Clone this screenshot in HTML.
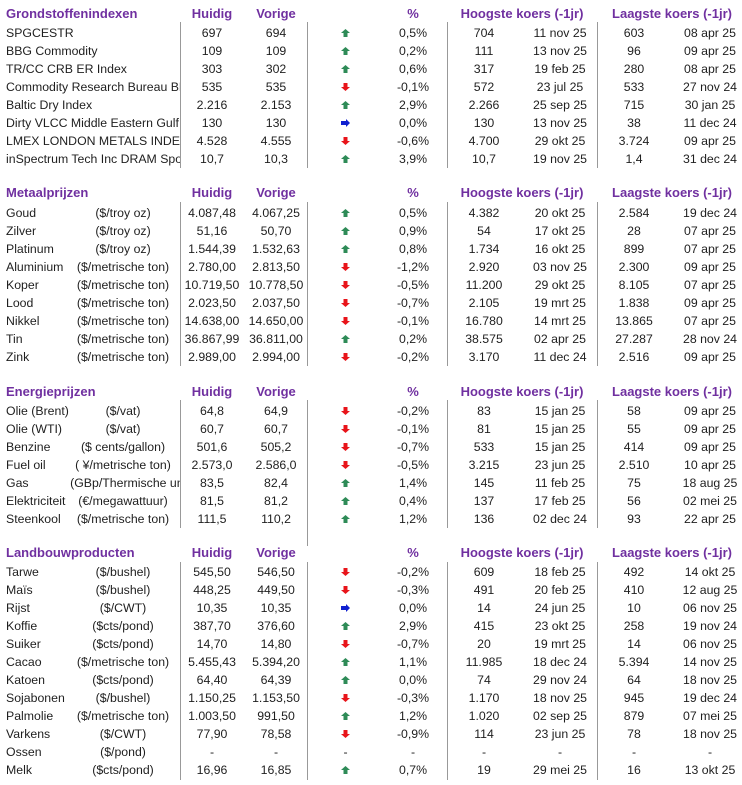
<!DOCTYPE html>
<html><head><meta charset="utf-8"><style>
body{margin:0;width:742px;height:785px;background:#fff;position:relative;overflow:hidden;font-family:"Liberation Sans",Arial,sans-serif;font-size:12.3px;color:#1e1e1e}
.r{position:absolute;left:0;width:742px;height:18px;line-height:18px}
.r span{position:absolute;top:0;white-space:nowrap}
.n{left:6px;width:174px;overflow:hidden}
.u{left:62px;width:118px;height:18px;overflow:hidden}
.u i{position:absolute;left:61px;transform:translateX(-50%);font-style:normal;white-space:nowrap}
.h{left:162px;width:100px;text-align:center}
.v{left:226px;width:100px;text-align:center}
.p{left:373px;width:80px;text-align:center}
.hv{left:444px;width:80px;text-align:center}
.hd{left:510px;width:100px;text-align:center}
.lv{left:594px;width:80px;text-align:center}
.ld{left:660px;width:100px;text-align:center}
.hdr{font-weight:bold;font-size:13px;color:#7030a0}
.vl{position:absolute;width:1px;background:#999}
</style></head><body>
<svg width="0" height="0" style="position:absolute"><defs>
<symbol id="up" viewBox="0 0 9 8"><polygon points="4.5,0 9,4 6.5,4 6.5,8 2.5,8 2.5,4 0,4" fill="#2e8b57"/></symbol>
<symbol id="dn" viewBox="0 0 9 8"><polygon points="4.5,8 9,4 6.5,4 6.5,0 2.5,0 2.5,4 0,4" fill="#e8141a"/></symbol>
<symbol id="rt" viewBox="0 0 9 8"><polygon points="9,4 5,0 5,2 0,2 0,6 5,6 5,8" fill="#1020d0"/></symbol>
</defs></svg>

<div class="vl" style="left:180px;top:22px;height:146px"></div>
<div class="vl" style="left:307px;top:22px;height:146px"></div>
<div class="vl" style="left:447px;top:22px;height:146px"></div>
<div class="vl" style="left:597px;top:22px;height:146px"></div>
<div class="vl" style="left:180px;top:202px;height:164px"></div>
<div class="vl" style="left:307px;top:202px;height:164px"></div>
<div class="vl" style="left:447px;top:202px;height:164px"></div>
<div class="vl" style="left:597px;top:202px;height:164px"></div>
<div class="vl" style="left:180px;top:400px;height:128px"></div>
<div class="vl" style="left:307px;top:400px;height:146px"></div>
<div class="vl" style="left:447px;top:400px;height:128px"></div>
<div class="vl" style="left:597px;top:400px;height:128px"></div>
<div class="vl" style="left:180px;top:562px;height:218px"></div>
<div class="vl" style="left:307px;top:562px;height:218px"></div>
<div class="vl" style="left:447px;top:562px;height:218px"></div>
<div class="vl" style="left:597px;top:562px;height:218px"></div>

<div class="r hdr" style="top:5px"><span class="n" style="width:200px">Grondstoffenindexen</span><span class="h">Huidig</span><span class="v">Vorige</span><span class="p">%</span><span style="left:442px;width:160px;text-align:center">Hoogste koers (-1jr)</span><span style="left:592px;width:160px;text-align:center">Laagste koers (-1jr)</span></div>
<div class="r" style="top:24px"><span class="n">SPGCESTR</span><span class="h">697</span><span class="v">694</span><svg style="position:absolute;left:341px;top:5px" width="9" height="8"><use href="#up"/></svg><span class="p">0,5%</span><span class="hv">704</span><span class="hd">11 nov 25</span><span class="lv">603</span><span class="ld">08 apr 25</span></div>
<div class="r" style="top:42px"><span class="n">BBG Commodity</span><span class="h">109</span><span class="v">109</span><svg style="position:absolute;left:341px;top:5px" width="9" height="8"><use href="#up"/></svg><span class="p">0,2%</span><span class="hv">111</span><span class="hd">13 nov 25</span><span class="lv">96</span><span class="ld">09 apr 25</span></div>
<div class="r" style="top:60px"><span class="n">TR/CC CRB ER Index</span><span class="h">303</span><span class="v">302</span><svg style="position:absolute;left:341px;top:5px" width="9" height="8"><use href="#up"/></svg><span class="p">0,6%</span><span class="hv">317</span><span class="hd">19 feb 25</span><span class="lv">280</span><span class="ld">08 apr 25</span></div>
<div class="r" style="top:78px"><span class="n">Commodity Research Bureau BLS</span><span class="h">535</span><span class="v">535</span><svg style="position:absolute;left:341px;top:5px" width="9" height="8"><use href="#dn"/></svg><span class="p">-0,1%</span><span class="hv">572</span><span class="hd">23 jul 25</span><span class="lv">533</span><span class="ld">27 nov 24</span></div>
<div class="r" style="top:96px"><span class="n">Baltic Dry Index</span><span class="h">2.216</span><span class="v">2.153</span><svg style="position:absolute;left:341px;top:5px" width="9" height="8"><use href="#up"/></svg><span class="p">2,9%</span><span class="hv">2.266</span><span class="hd">25 sep 25</span><span class="lv">715</span><span class="ld">30 jan 25</span></div>
<div class="r" style="top:114px"><span class="n">Dirty VLCC Middle Eastern Gulf</span><span class="h">130</span><span class="v">130</span><svg style="position:absolute;left:341px;top:5px" width="9" height="8"><use href="#rt"/></svg><span class="p">0,0%</span><span class="hv">130</span><span class="hd">13 nov 25</span><span class="lv">38</span><span class="ld">11 dec 24</span></div>
<div class="r" style="top:132px"><span class="n">LMEX LONDON METALS INDEX</span><span class="h">4.528</span><span class="v">4.555</span><svg style="position:absolute;left:341px;top:5px" width="9" height="8"><use href="#dn"/></svg><span class="p">-0,6%</span><span class="hv">4.700</span><span class="hd">29 okt 25</span><span class="lv">3.724</span><span class="ld">09 apr 25</span></div>
<div class="r" style="top:150px"><span class="n">inSpectrum Tech Inc DRAM Spot</span><span class="h">10,7</span><span class="v">10,3</span><svg style="position:absolute;left:341px;top:5px" width="9" height="8"><use href="#up"/></svg><span class="p">3,9%</span><span class="hv">10,7</span><span class="hd">19 nov 25</span><span class="lv">1,4</span><span class="ld">31 dec 24</span></div>

<div class="r hdr" style="top:184px"><span class="n" style="width:200px">Metaalprijzen</span><span class="h">Huidig</span><span class="v">Vorige</span><span class="p">%</span><span style="left:442px;width:160px;text-align:center">Hoogste koers (-1jr)</span><span style="left:592px;width:160px;text-align:center">Laagste koers (-1jr)</span></div>
<div class="r" style="top:204px"><span class="n">Goud</span><span class="u"><i>($/troy oz)</i></span><span class="h">4.087,48</span><span class="v">4.067,25</span><svg style="position:absolute;left:341px;top:5px" width="9" height="8"><use href="#up"/></svg><span class="p">0,5%</span><span class="hv">4.382</span><span class="hd">20 okt 25</span><span class="lv">2.584</span><span class="ld">19 dec 24</span></div>
<div class="r" style="top:222px"><span class="n">Zilver</span><span class="u"><i>($/troy oz)</i></span><span class="h">51,16</span><span class="v">50,70</span><svg style="position:absolute;left:341px;top:5px" width="9" height="8"><use href="#up"/></svg><span class="p">0,9%</span><span class="hv">54</span><span class="hd">17 okt 25</span><span class="lv">28</span><span class="ld">07 apr 25</span></div>
<div class="r" style="top:240px"><span class="n">Platinum</span><span class="u"><i>($/troy oz)</i></span><span class="h">1.544,39</span><span class="v">1.532,63</span><svg style="position:absolute;left:341px;top:5px" width="9" height="8"><use href="#up"/></svg><span class="p">0,8%</span><span class="hv">1.734</span><span class="hd">16 okt 25</span><span class="lv">899</span><span class="ld">07 apr 25</span></div>
<div class="r" style="top:258px"><span class="n">Aluminium</span><span class="u"><i>($/metrische ton)</i></span><span class="h">2.780,00</span><span class="v">2.813,50</span><svg style="position:absolute;left:341px;top:5px" width="9" height="8"><use href="#dn"/></svg><span class="p">-1,2%</span><span class="hv">2.920</span><span class="hd">03 nov 25</span><span class="lv">2.300</span><span class="ld">09 apr 25</span></div>
<div class="r" style="top:276px"><span class="n">Koper</span><span class="u"><i>($/metrische ton)</i></span><span class="h">10.719,50</span><span class="v">10.778,50</span><svg style="position:absolute;left:341px;top:5px" width="9" height="8"><use href="#dn"/></svg><span class="p">-0,5%</span><span class="hv">11.200</span><span class="hd">29 okt 25</span><span class="lv">8.105</span><span class="ld">07 apr 25</span></div>
<div class="r" style="top:294px"><span class="n">Lood</span><span class="u"><i>($/metrische ton)</i></span><span class="h">2.023,50</span><span class="v">2.037,50</span><svg style="position:absolute;left:341px;top:5px" width="9" height="8"><use href="#dn"/></svg><span class="p">-0,7%</span><span class="hv">2.105</span><span class="hd">19 mrt 25</span><span class="lv">1.838</span><span class="ld">09 apr 25</span></div>
<div class="r" style="top:312px"><span class="n">Nikkel</span><span class="u"><i>($/metrische ton)</i></span><span class="h">14.638,00</span><span class="v">14.650,00</span><svg style="position:absolute;left:341px;top:5px" width="9" height="8"><use href="#dn"/></svg><span class="p">-0,1%</span><span class="hv">16.780</span><span class="hd">14 mrt 25</span><span class="lv">13.865</span><span class="ld">07 apr 25</span></div>
<div class="r" style="top:330px"><span class="n">Tin</span><span class="u"><i>($/metrische ton)</i></span><span class="h">36.867,99</span><span class="v">36.811,00</span><svg style="position:absolute;left:341px;top:5px" width="9" height="8"><use href="#up"/></svg><span class="p">0,2%</span><span class="hv">38.575</span><span class="hd">02 apr 25</span><span class="lv">27.287</span><span class="ld">28 nov 24</span></div>
<div class="r" style="top:348px"><span class="n">Zink</span><span class="u"><i>($/metrische ton)</i></span><span class="h">2.989,00</span><span class="v">2.994,00</span><svg style="position:absolute;left:341px;top:5px" width="9" height="8"><use href="#dn"/></svg><span class="p">-0,2%</span><span class="hv">3.170</span><span class="hd">11 dec 24</span><span class="lv">2.516</span><span class="ld">09 apr 25</span></div>

<div class="r hdr" style="top:383px"><span class="n" style="width:200px">Energieprijzen</span><span class="h">Huidig</span><span class="v">Vorige</span><span class="p">%</span><span style="left:442px;width:160px;text-align:center">Hoogste koers (-1jr)</span><span style="left:592px;width:160px;text-align:center">Laagste koers (-1jr)</span></div>
<div class="r" style="top:402px"><span class="n">Olie (Brent)</span><span class="u"><i>($/vat)</i></span><span class="h">64,8</span><span class="v">64,9</span><svg style="position:absolute;left:341px;top:5px" width="9" height="8"><use href="#dn"/></svg><span class="p">-0,2%</span><span class="hv">83</span><span class="hd">15 jan 25</span><span class="lv">58</span><span class="ld">09 apr 25</span></div>
<div class="r" style="top:420px"><span class="n">Olie (WTI)</span><span class="u"><i>($/vat)</i></span><span class="h">60,7</span><span class="v">60,7</span><svg style="position:absolute;left:341px;top:5px" width="9" height="8"><use href="#dn"/></svg><span class="p">-0,1%</span><span class="hv">81</span><span class="hd">15 jan 25</span><span class="lv">55</span><span class="ld">09 apr 25</span></div>
<div class="r" style="top:438px"><span class="n">Benzine</span><span class="u"><i>($ cents/gallon)</i></span><span class="h">501,6</span><span class="v">505,2</span><svg style="position:absolute;left:341px;top:5px" width="9" height="8"><use href="#dn"/></svg><span class="p">-0,7%</span><span class="hv">533</span><span class="hd">15 jan 25</span><span class="lv">414</span><span class="ld">09 apr 25</span></div>
<div class="r" style="top:456px"><span class="n">Fuel oil</span><span class="u"><i>( ¥/metrische ton)</i></span><span class="h">2.573,0</span><span class="v">2.586,0</span><svg style="position:absolute;left:341px;top:5px" width="9" height="8"><use href="#dn"/></svg><span class="p">-0,5%</span><span class="hv">3.215</span><span class="hd">23 jun 25</span><span class="lv">2.510</span><span class="ld">10 apr 25</span></div>
<div class="r" style="top:474px"><span class="n">Gas</span><span class="u"><i style="left:70px">(GBp/Thermische unit)</i></span><span class="h">83,5</span><span class="v">82,4</span><svg style="position:absolute;left:341px;top:5px" width="9" height="8"><use href="#up"/></svg><span class="p">1,4%</span><span class="hv">145</span><span class="hd">11 feb 25</span><span class="lv">75</span><span class="ld">18 aug 25</span></div>
<div class="r" style="top:492px"><span class="n">Elektriciteit</span><span class="u"><i>(€/megawattuur)</i></span><span class="h">81,5</span><span class="v">81,2</span><svg style="position:absolute;left:341px;top:5px" width="9" height="8"><use href="#up"/></svg><span class="p">0,4%</span><span class="hv">137</span><span class="hd">17 feb 25</span><span class="lv">56</span><span class="ld">02 mei 25</span></div>
<div class="r" style="top:510px"><span class="n">Steenkool</span><span class="u"><i>($/metrische ton)</i></span><span class="h">111,5</span><span class="v">110,2</span><svg style="position:absolute;left:341px;top:5px" width="9" height="8"><use href="#up"/></svg><span class="p">1,2%</span><span class="hv">136</span><span class="hd">02 dec 24</span><span class="lv">93</span><span class="ld">22 apr 25</span></div>

<div class="r hdr" style="top:544px"><span class="n" style="width:200px">Landbouwproducten</span><span class="h">Huidig</span><span class="v">Vorige</span><span class="p">%</span><span style="left:442px;width:160px;text-align:center">Hoogste koers (-1jr)</span><span style="left:592px;width:160px;text-align:center">Laagste koers (-1jr)</span></div>
<div class="r" style="top:563px"><span class="n">Tarwe</span><span class="u"><i>($/bushel)</i></span><span class="h">545,50</span><span class="v">546,50</span><svg style="position:absolute;left:341px;top:5px" width="9" height="8"><use href="#dn"/></svg><span class="p">-0,2%</span><span class="hv">609</span><span class="hd">18 feb 25</span><span class="lv">492</span><span class="ld">14 okt 25</span></div>
<div class="r" style="top:581px"><span class="n">Maïs</span><span class="u"><i>($/bushel)</i></span><span class="h">448,25</span><span class="v">449,50</span><svg style="position:absolute;left:341px;top:5px" width="9" height="8"><use href="#dn"/></svg><span class="p">-0,3%</span><span class="hv">491</span><span class="hd">20 feb 25</span><span class="lv">410</span><span class="ld">12 aug 25</span></div>
<div class="r" style="top:599px"><span class="n">Rijst</span><span class="u"><i>($/CWT)</i></span><span class="h">10,35</span><span class="v">10,35</span><svg style="position:absolute;left:341px;top:5px" width="9" height="8"><use href="#rt"/></svg><span class="p">0,0%</span><span class="hv">14</span><span class="hd">24 jun 25</span><span class="lv">10</span><span class="ld">06 nov 25</span></div>
<div class="r" style="top:617px"><span class="n">Koffie</span><span class="u"><i>($cts/pond)</i></span><span class="h">387,70</span><span class="v">376,60</span><svg style="position:absolute;left:341px;top:5px" width="9" height="8"><use href="#up"/></svg><span class="p">2,9%</span><span class="hv">415</span><span class="hd">23 okt 25</span><span class="lv">258</span><span class="ld">19 nov 24</span></div>
<div class="r" style="top:635px"><span class="n">Suiker</span><span class="u"><i>($cts/pond)</i></span><span class="h">14,70</span><span class="v">14,80</span><svg style="position:absolute;left:341px;top:5px" width="9" height="8"><use href="#dn"/></svg><span class="p">-0,7%</span><span class="hv">20</span><span class="hd">19 mrt 25</span><span class="lv">14</span><span class="ld">06 nov 25</span></div>
<div class="r" style="top:653px"><span class="n">Cacao</span><span class="u"><i>($/metrische ton)</i></span><span class="h">5.455,43</span><span class="v">5.394,20</span><svg style="position:absolute;left:341px;top:5px" width="9" height="8"><use href="#up"/></svg><span class="p">1,1%</span><span class="hv">11.985</span><span class="hd">18 dec 24</span><span class="lv">5.394</span><span class="ld">14 nov 25</span></div>
<div class="r" style="top:671px"><span class="n">Katoen</span><span class="u"><i>($cts/pond)</i></span><span class="h">64,40</span><span class="v">64,39</span><svg style="position:absolute;left:341px;top:5px" width="9" height="8"><use href="#up"/></svg><span class="p">0,0%</span><span class="hv">74</span><span class="hd">29 nov 24</span><span class="lv">64</span><span class="ld">18 nov 25</span></div>
<div class="r" style="top:689px"><span class="n">Sojabonen</span><span class="u"><i>($/bushel)</i></span><span class="h">1.150,25</span><span class="v">1.153,50</span><svg style="position:absolute;left:341px;top:5px" width="9" height="8"><use href="#dn"/></svg><span class="p">-0,3%</span><span class="hv">1.170</span><span class="hd">18 nov 25</span><span class="lv">945</span><span class="ld">19 dec 24</span></div>
<div class="r" style="top:707px"><span class="n">Palmolie</span><span class="u"><i>($/metrische ton)</i></span><span class="h">1.003,50</span><span class="v">991,50</span><svg style="position:absolute;left:341px;top:5px" width="9" height="8"><use href="#up"/></svg><span class="p">1,2%</span><span class="hv">1.020</span><span class="hd">02 sep 25</span><span class="lv">879</span><span class="ld">07 mei 25</span></div>
<div class="r" style="top:725px"><span class="n">Varkens</span><span class="u"><i>($/CWT)</i></span><span class="h">77,90</span><span class="v">78,58</span><svg style="position:absolute;left:341px;top:5px" width="9" height="8"><use href="#dn"/></svg><span class="p">-0,9%</span><span class="hv">114</span><span class="hd">23 jun 25</span><span class="lv">78</span><span class="ld">18 nov 25</span></div>
<div class="r" style="top:743px"><span class="n">Ossen</span><span class="u"><i>($/pond)</i></span><span class="h">-</span><span class="v">-</span><span style="left:341px;width:9px;text-align:center">-</span><span class="p">-</span><span class="hv">-</span><span class="hd">-</span><span class="lv">-</span><span class="ld">-</span></div>
<div class="r" style="top:761px"><span class="n">Melk</span><span class="u"><i>($cts/pond)</i></span><span class="h">16,96</span><span class="v">16,85</span><svg style="position:absolute;left:341px;top:5px" width="9" height="8"><use href="#up"/></svg><span class="p">0,7%</span><span class="hv">19</span><span class="hd">29 mei 25</span><span class="lv">16</span><span class="ld">13 okt 25</span></div>
</body></html>
